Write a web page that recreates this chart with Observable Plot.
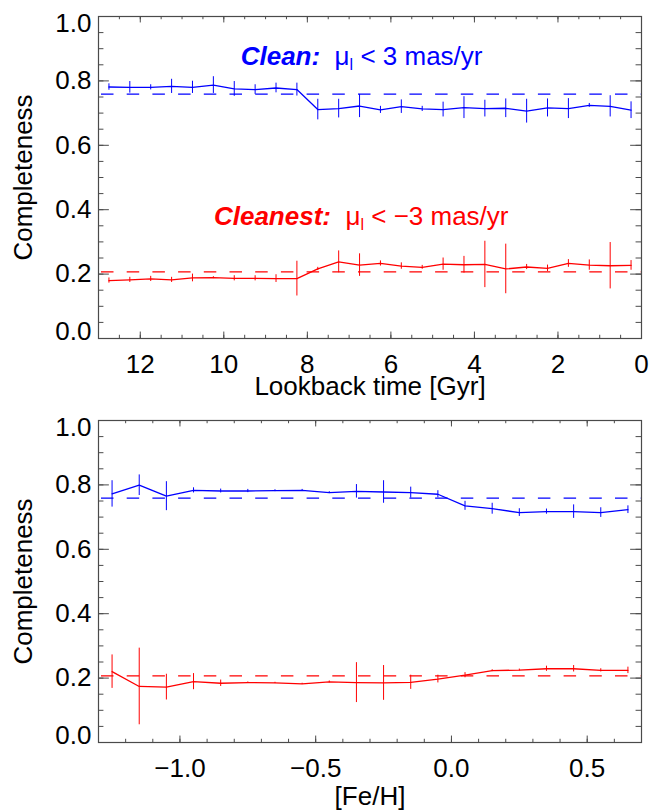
<!DOCTYPE html>
<html>
<head>
<meta charset="utf-8">
<script src="https://cdn.jsdelivr.net/npm/d3@7"></script>
<script src="https://cdn.jsdelivr.net/npm/@observablehq/plot@0.6"></script>
<style>
  html, body { margin: 0; padding: 0; background: #fff; }
  #chart svg { display: block; }
</style>
</head>
<body>
<div id="chart"></div>
<script>
// ---------- data ----------
const ageBins = [12.75,12.25,11.75,11.25,10.75,10.25,9.75,9.25,8.75,8.25,7.75,7.25,6.75,6.25,5.75,5.25,4.75,4.25,3.75,3.25,2.75,2.25,1.75,1.25,0.75,0.25];
const ageClean = [0.781,0.780,0.780,0.783,0.780,0.787,0.775,0.773,0.778,0.773,0.711,0.714,0.722,0.710,0.720,0.713,0.711,0.717,0.714,0.715,0.706,0.716,0.714,0.724,0.721,0.709];
const ageCleanErr = [0.010,0.018,0.008,0.022,0.019,0.026,0.023,0.015,0.015,0.020,0.032,0.029,0.036,0.011,0.021,0.008,0.023,0.034,0.026,0.029,0.037,0.028,0.031,0.006,0.033,0.026];
const ageCleanest = [0.180,0.182,0.185,0.182,0.188,0.189,0.187,0.187,0.186,0.186,0.216,0.238,0.228,0.233,0.225,0.221,0.231,0.229,0.230,0.216,0.222,0.218,0.233,0.228,0.226,0.227];
const ageCleanestErr = [0.008,0.008,0.008,0.008,0.012,0.003,0.008,0.008,0.012,0.054,0.005,0.034,0.035,0.008,0.010,0.006,0.019,0.026,0.072,0.077,0.008,0.010,0.012,0.016,0.072,0.015];

const fehBins = [-1.25,-1.15,-1.05,-0.95,-0.85,-0.75,-0.65,-0.55,-0.45,-0.35,-0.25,-0.15,-0.05,0.05,0.15,0.25,0.35,0.45,0.55,0.65];
const fehClean = [0.772,0.799,0.765,0.783,0.781,0.781,0.782,0.783,0.776,0.780,0.778,0.776,0.771,0.735,0.726,0.714,0.717,0.717,0.714,0.723];
const fehCleanErr = [0.041,0.032,0.045,0.008,0.006,0.005,0.003,0.003,0.003,0.021,0.035,0.017,0.011,0.014,0.017,0.012,0.008,0.021,0.015,0.012];
const fehCleanest = [0.220,0.174,0.172,0.189,0.184,0.186,0.185,0.182,0.188,0.186,0.185,0.187,0.197,0.209,0.223,0.225,0.229,0.229,0.224,0.224];
const fehCleanestErr = [0.052,0.119,0.040,0.025,0.010,0.002,0.002,0.002,0.003,0.062,0.054,0.022,0.012,0.008,0.003,0.003,0.008,0.010,0.005,0.010];

const cleanRef = 0.759;
const cleanestRef = 0.207;

const seriesNames = ["Clean", "Cleanest"];
const yTicksMajor = [0, 0.2, 0.4, 0.6, 0.8, 1.0];
const yTicksMinor = d3.range(0, 1.0001, 0.05).map(v => +v.toFixed(2));
const ageTicksMajor = [12, 10, 8, 6, 4, 2, 0];
const ageTicksMinor = d3.range(0, 13.001, 0.5);
const fehTicksMajor = [-1.0, -0.5, 0.0, 0.5];
const fehTicksMinor = d3.range(-1.3, 0.7001, 0.1).map(v => +v.toFixed(1));

const annotations = [
  {key: "Clean:", rest: "\u00a0\u00a0\u03bc", sub: "l", tail: "\u00a0< 3 mas/yr"},
  {key: "Cleanest:", rest: "\u00a0\u00a0\u03bc", sub: "l", tail: "\u00a0< \u22123 mas/yr"}
];

// ---------- styling ----------
const BLUE = "#0000ff";
const RED = "#ff0000";
const FRAME = "#4a4a4a";
const FONT = "'Liberation Sans', Arial, Helvetica, sans-serif";
const FS = 26;

function panel(o) {
  const sets = [
    {name: "Clean", vals: o.clean, errs: o.cleanErr},
    {name: "Cleanest", vals: o.cleanest, errs: o.cleanestErr}
  ];
  const data = sets.flatMap(s => o.bins.map((b, i) => ({
    x: b, y: s.vals[i], lo: s.vals[i] - s.errs[i], hi: s.vals[i] + s.errs[i], s: s.name
  })));
  const refs = [{y: cleanRef, s: "Clean"}, {y: cleanestRef, s: "Cleanest"}];
  const [xa, xb] = o.xDomain;
  const span = xb - xa;
  const midY = yTicksMajor.filter(v => v > 0 && v < 1);

  const marks = [
    Plot.ruleY(refs, {y: "y", stroke: "s", strokeWidth: 1.2, strokeDasharray: "12.5,13.2", strokeDashoffset: -3}),
    Plot.ruleX(data, {x: "x", y1: "lo", y2: "hi", stroke: "s", strokeWidth: 1}),
    Plot.line(data, {x: "x", y: "y", z: "s", stroke: "s", strokeWidth: 1.3}),
    // x ticks (bottom and top, inward)
    Plot.ruleX(o.xMajor, {x: d => d, y1: 0, y2: 0.02, stroke: FRAME}),
    Plot.ruleX(o.xMinor, {x: d => d, y1: 0, y2: 0.01, stroke: FRAME}),
    Plot.ruleX(o.xMajor, {x: d => d, y1: 1, y2: 0.98, stroke: FRAME}),
    Plot.ruleX(o.xMinor, {x: d => d, y1: 1, y2: 0.99, stroke: FRAME}),
    // y ticks (left and right, inward)
    Plot.ruleY(yTicksMajor, {y: d => d, x1: xa, x2: xa + 0.02 * span, stroke: FRAME}),
    Plot.ruleY(yTicksMinor, {y: d => d, x1: xa, x2: xa + 0.01 * span, stroke: FRAME}),
    Plot.ruleY(yTicksMajor, {y: d => d, x1: xb, x2: xb - 0.02 * span, stroke: FRAME}),
    Plot.ruleY(yTicksMinor, {y: d => d, x1: xb, x2: xb - 0.01 * span, stroke: FRAME}),
    Plot.frame({stroke: FRAME, strokeWidth: 1.2}),
    // tick labels
    Plot.axisX({ticks: o.xMajor, tickSize: 0, tickPadding: 16, tickFormat: o.xFormat, label: null, fontSize: FS}),
    Plot.axisY({ticks: midY, tickSize: 0, tickPadding: 7, tickFormat: d3.format(".1f"), label: null, fontSize: FS}),
    Plot.axisY({ticks: [1], tickSize: 0, tickPadding: 7, tickFormat: d3.format(".1f"), label: null, fontSize: FS, dy: 7}),
    Plot.axisY({ticks: [0], tickSize: 0, tickPadding: 7, tickFormat: d3.format(".1f"), label: null, fontSize: FS, dy: -7}),
    // axis titles
    Plot.text([o.xLabel], {frameAnchor: "bottom", dy: o.xLabelDy, fontSize: FS, lineAnchor: "middle", fill: "black"}),
    Plot.text(["Completeness"], {frameAnchor: "left", dx: -75, rotate: -90, fontSize: FS, textAnchor: "middle", lineAnchor: "middle", fill: "black"})
  ];
  if (o.notes) {
    marks.push(Plot.text([annotations[0].key], {frameAnchor: "top-left", dx: 384, dy: 40.5, fill: BLUE, fontSize: FS, textAnchor: "end", lineAnchor: "middle"}));
    marks.push(Plot.text([annotations[1].key], {frameAnchor: "top-left", dx: 410, dy: 200.5, fill: RED, fontSize: FS, textAnchor: "end", lineAnchor: "middle"}));
  }

  const svg = Plot.plot({
    width: 649,
    height: o.height,
    marginLeft: 98,
    marginRight: 8,
    marginTop: o.marginTop,
    marginBottom: o.marginBottom,
    x: {domain: o.xDomain, axis: null},
    y: {domain: [0, 1], axis: null},
    color: {domain: seriesNames, range: [BLUE, RED]},
    style: {fontFamily: FONT, fontSize: FS + "px", background: "white", overflow: "visible", color: "black"},
    marks
  });

  if (o.notes) {
    annotations.forEach(a => {
      d3.select(svg).selectAll("text").filter(function () { return this.textContent === a.key; }).each(function () {
        const t = d3.select(this);
        t.text(null);
        t.append("tspan").attr("font-weight", "bold").attr("font-style", "italic").text(a.key);
        t.append("tspan").text(a.rest);
        t.append("tspan").attr("font-size", "16px").attr("dy", "5px").text(a.sub);
        t.append("tspan").attr("dy", "-5px").text(a.tail);
      });
    });
  }
  return svg;
}

const root = document.getElementById("chart");
root.appendChild(panel({
  bins: ageBins, clean: ageClean, cleanErr: ageCleanErr, cleanest: ageCleanest, cleanestErr: ageCleanestErr,
  xDomain: [13, 0], xMajor: ageTicksMajor, xMinor: ageTicksMinor, xFormat: d3.format("d"),
  xLabel: "Lookback time [Gyr]", xLabelDy: 48,
  height: 405, marginTop: 16, marginBottom: 67, notes: true
}));
root.appendChild(panel({
  bins: fehBins, clean: fehClean, cleanErr: fehCleanErr, cleanest: fehCleanest, cleanestErr: fehCleanestErr,
  xDomain: [-1.3, 0.7], xMajor: fehTicksMajor, xMinor: fehTicksMinor, xFormat: d3.format(".1f"),
  xLabel: "[Fe/H]", xLabelDy: 54,
  height: 406, marginTop: 15, marginBottom: 69, notes: false
}));
</script>
</body>
</html>
